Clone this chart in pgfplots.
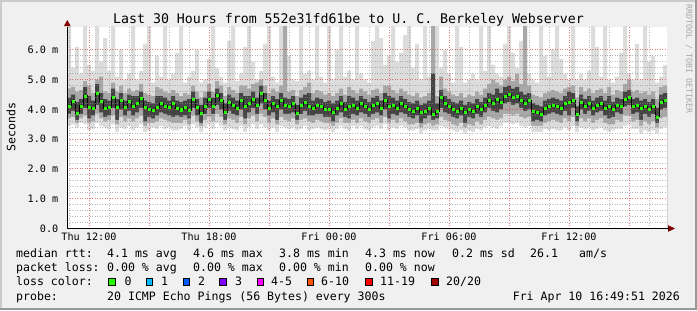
\documentclass[border=0pt]{standalone}
\usepackage{pgfplots}
\pgfplotsset{compat=1.18}
\usepackage{pgfplotstable}
\usepackage{fontspec}
\setmainfont{DejaVu Sans Mono}
\setmonofont{DejaVu Sans Mono}
\definecolor{bgc}{HTML}{F0F0F0}
\definecolor{shadeA}{HTML}{CBCBCB}
\definecolor{shadeB}{HTML}{999999}
\definecolor{mgrid}{HTML}{D04040}
\definecolor{ngrid}{HTML}{8C8C8C}
\definecolor{arrowc}{HTML}{800000}
\definecolor{smokeA}{HTML}{DCDCDC}
\definecolor{smokeB}{HTML}{A8A8A8}
\definecolor{smokeC}{HTML}{444444}
\definecolor{lc0}{HTML}{26FF00}
\definecolor{lc1}{HTML}{00B8FF}
\definecolor{lc2}{HTML}{0059FF}
\definecolor{lc3}{HTML}{7E00FF}
\definecolor{lc4}{HTML}{FF00FF}
\definecolor{lc6}{HTML}{FF5500}
\definecolor{lc11}{HTML}{FF0000}
\definecolor{lc20}{HTML}{A00000}
\newcommand{\legfont}{\fontsize{11.6}{14}\selectfont}
\newcommand{\axfont}{\fontsize{10.2}{12}\selectfont}

\pgfplotstableread{
i med l1 h1 l2 h2 l3 h3
0 4.12 3.45 6.9 3.70 4.70 3.85 4.40
1 4.27 3.50 5.40 3.75 4.75 3.95 4.50
2 3.86 3.40 6.10 3.55 4.60 3.65 4.25
3 4.12 3.55 5.20 3.70 4.65 3.85 4.35
4 4.46 3.50 6.9 3.80 4.95 4.05 4.75
5 4.08 3.30 5.50 3.55 4.80 3.70 4.45
6 4.05 3.35 5.30 3.60 4.55 3.80 4.30
7 4.55 3.55 6.9 3.85 5.00 4.15 4.85
8 4.27 3.45 5.60 3.70 5.10 3.90 4.55
9 4.05 3.40 6.40 3.60 4.60 3.75 4.35
10 4.08 3.35 5.30 3.65 4.55 3.80 4.30
11 4.41 3.50 6.9 3.80 4.90 4.05 4.70
12 4.08 3.25 5.10 3.50 4.60 3.65 4.35
13 4.32 3.40 6.00 3.75 4.80 4.00 4.55
14 4.08 3.35 5.00 3.60 4.55 3.80 4.30
15 4.27 3.45 5.20 3.70 4.70 3.95 4.50
16 4.10 3.30 6.9 3.60 4.60 3.80 4.45
17 4.21 3.40 5.00 3.70 4.65 3.90 4.45
18 4.38 3.50 5.30 3.80 4.85 4.05 4.60
19 4.08 3.25 6.20 3.45 4.55 3.60 4.30
20 4.01 3.30 6.9 3.55 4.50 3.75 4.25
21 3.97 3.40 4.90 3.55 4.45 3.70 4.20
22 4.08 3.35 5.80 3.60 4.75 3.80 4.45
23 4.21 3.45 5.10 3.70 4.70 3.90 4.45
24 4.12 3.35 6.9 3.65 4.60 3.85 4.40
25 4.08 3.40 5.00 3.60 4.55 3.80 4.30
26 4.21 3.30 5.20 3.55 4.65 3.75 4.45
27 4.05 3.30 5.90 3.55 4.55 3.80 4.30
28 3.99 3.35 6.9 3.55 4.45 3.75 4.25
29 4.08 3.45 4.90 3.65 4.55 3.80 4.30
30 3.97 3.30 5.10 3.50 4.50 3.70 4.35
31 4.35 3.50 5.30 3.80 4.80 4.05 4.60
32 4.08 3.40 6.00 3.60 4.60 3.80 4.35
33 3.86 3.25 4.90 3.45 4.40 3.55 4.15
34 4.12 3.40 5.00 3.65 4.60 3.85 4.40
35 4.35 3.50 5.70 3.75 4.85 4.05 4.60
36 4.12 3.35 6.9 3.60 4.60 3.85 4.40
37 4.49 3.55 5.40 3.85 4.95 4.15 4.70
38 4.30 3.45 5.10 3.75 4.80 4.00 4.55
39 3.90 3.30 4.90 3.50 4.45 3.65 4.20
40 4.25 3.40 6.30 3.70 4.75 3.95 4.50
41 4.15 3.35 6.9 3.65 4.65 3.85 4.40
42 4.05 3.30 4.95 3.55 4.55 3.80 4.30
43 4.30 3.45 5.20 3.75 4.80 4.00 4.55
44 4.10 3.25 6.10 3.50 4.80 3.70 4.45
45 4.20 3.40 6.9 3.70 4.70 3.90 4.45
46 4.35 3.50 5.60 3.80 4.85 4.05 4.60
47 4.15 3.35 5.00 3.60 4.90 3.85 4.40
48 4.55 3.50 5.30 3.85 5.00 4.20 4.80
49 4.30 3.40 6.20 3.75 4.80 4.00 4.55
50 4.05 3.30 6.9 3.55 4.55 3.80 4.30
51 4.20 3.40 5.10 3.70 4.70 3.90 4.45
52 4.10 3.25 4.90 3.50 4.60 3.65 4.35
53 4.30 3.45 6.9 3.75 4.80 4.00 4.55
54 4.15 3.40 6.9 3.65 6.9 3.85 4.40
55 4.10 3.35 5.80 3.60 4.60 3.85 4.35
56 4.20 3.40 5.00 3.70 4.65 3.90 4.45
57 3.88 3.30 4.95 3.50 4.45 3.65 4.15
58 4.15 3.35 6.9 3.65 4.65 3.85 4.40
59 4.25 3.45 5.20 3.70 4.75 3.95 4.50
60 4.10 3.30 5.30 3.60 4.90 3.80 4.55
61 4.05 3.35 5.00 3.55 4.55 3.80 4.30
62 4.15 3.40 6.9 3.65 4.65 3.85 4.40
63 4.10 3.35 5.10 3.60 4.60 3.85 4.35
64 4.00 3.30 4.90 3.55 4.50 3.75 4.25
65 4.02 3.35 6.9 3.55 4.55 3.75 4.30
66 3.90 3.25 5.00 3.45 4.45 3.60 4.20
67 4.05 3.35 6.00 3.55 4.55 3.80 4.30
68 4.20 3.45 6.9 3.70 4.70 3.90 4.45
69 4.00 3.35 5.10 3.55 4.50 3.75 4.25
70 4.10 3.30 5.30 3.55 4.75 3.70 4.45
71 4.15 3.45 5.00 3.65 4.65 3.85 4.40
72 4.05 3.35 6.9 3.55 4.55 3.80 4.30
73 4.20 3.45 5.20 3.70 4.70 3.90 4.45
74 4.10 3.35 5.00 3.60 4.60 3.85 4.35
75 4.00 3.30 4.90 3.55 4.50 3.75 4.25
76 4.15 3.40 6.30 3.65 4.65 3.85 4.40
77 4.20 3.45 6.9 3.70 4.70 3.90 4.45
78 4.05 3.35 6.40 3.55 4.55 3.80 4.30
79 4.30 3.50 5.50 3.75 4.80 4.00 4.55
80 4.10 3.30 5.80 3.55 4.80 3.70 4.45
81 4.15 3.40 6.9 3.65 4.65 3.85 4.40
82 4.05 3.35 5.60 3.55 4.55 3.80 4.30
83 4.20 3.45 5.90 3.70 4.70 3.90 4.45
84 4.10 3.40 6.50 3.60 4.60 3.85 4.35
85 4.00 3.30 6.9 3.50 4.50 3.75 4.25
86 3.95 3.30 5.40 3.50 4.45 3.70 4.20
87 4.05 3.35 6.20 3.55 4.55 3.80 4.30
88 3.90 3.20 5.00 3.40 4.40 3.55 4.15
89 3.95 3.30 6.9 3.50 4.45 3.70 4.20
90 4.05 3.35 5.10 3.55 4.55 3.80 4.30
91 3.85 3.30 6.9 3.45 6.9 3.65 5.20
92 3.95 3.30 6.9 3.50 4.45 3.70 4.20
93 4.40 3.45 5.40 3.75 5.10 4.05 4.65
94 4.20 3.40 6.00 3.65 4.70 3.90 4.45
95 4.10 3.35 5.20 3.60 4.60 3.85 4.35
96 4.00 3.30 4.90 3.50 4.50 3.75 4.25
97 3.95 3.25 6.9 3.45 4.45 3.70 4.20
98 4.05 3.30 6.10 3.55 4.55 3.80 4.30
99 3.90 3.20 4.90 3.40 4.40 3.55 4.15
100 4.00 3.30 5.00 3.50 4.50 3.75 4.25
101 3.95 3.25 5.20 3.45 4.45 3.70 4.20
102 4.10 3.35 5.00 3.60 4.60 3.85 4.35
103 4.00 3.30 6.9 3.50 4.50 3.75 4.25
104 4.15 3.40 5.30 3.65 4.70 3.90 4.40
105 4.30 3.45 6.9 3.75 4.85 4.05 4.55
106 4.20 3.40 5.50 3.70 5.00 3.95 4.50
107 4.35 3.35 5.20 3.65 4.90 3.90 4.70
108 4.25 3.45 5.10 3.70 4.80 4.00 4.55
109 4.45 3.55 6.20 3.85 5.00 4.20 4.75
110 4.50 3.55 6.9 3.85 5.10 4.25 4.80
111 4.40 3.50 5.90 3.80 4.95 4.15 4.70
112 4.45 3.55 5.40 3.85 5.20 4.20 4.75
113 4.30 3.45 6.30 3.75 4.85 4.05 4.60
114 4.20 3.40 6.9 3.70 6.9 3.95 4.50
115 4.30 3.45 5.20 3.75 4.80 4.00 4.55
116 3.95 3.25 5.00 3.45 4.50 3.60 4.20
117 3.90 3.25 4.90 3.45 4.45 3.65 4.15
118 3.85 3.25 6.9 3.45 4.40 3.60 4.10
119 4.05 3.35 5.80 3.55 4.55 3.80 4.30
120 4.10 3.30 5.10 3.60 4.60 3.85 4.35
121 4.15 3.35 6.00 3.65 4.65 3.90 4.40
122 4.10 3.30 6.9 3.60 4.60 3.85 4.35
123 4.05 3.30 5.70 3.55 4.55 3.80 4.30
124 4.20 3.40 5.20 3.70 4.70 3.95 4.45
125 4.25 3.30 5.00 3.60 4.75 3.80 4.60
126 4.30 3.45 6.9 3.75 4.80 4.05 4.55
127 3.85 3.25 5.00 3.45 4.40 3.60 4.10
128 4.25 3.40 5.20 3.70 4.75 4.00 4.50
129 4.10 3.35 5.00 3.60 4.60 3.85 4.35
130 4.20 3.40 5.30 3.70 4.70 3.95 4.45
131 4.05 3.30 6.9 3.55 4.55 3.80 4.30
132 4.15 3.35 6.10 3.65 4.65 3.90 4.40
133 4.20 3.40 5.10 3.70 4.70 3.95 4.45
134 4.05 3.30 6.9 3.55 4.55 3.80 4.30
135 4.10 3.25 5.00 3.50 4.75 3.70 4.45
136 4.00 3.30 4.90 3.50 4.50 3.75 4.25
137 4.15 3.35 5.10 3.65 4.65 3.90 4.40
138 4.10 3.35 5.90 3.60 4.60 3.85 4.35
139 4.35 3.45 6.9 3.80 4.85 4.10 4.60
140 4.40 3.50 5.20 3.80 5.00 4.15 4.65
141 4.10 3.35 5.00 3.60 4.60 3.85 4.35
142 4.15 3.35 6.20 3.65 4.65 3.90 4.40
143 4.05 3.20 5.00 3.45 4.55 3.65 4.30
144 4.10 3.30 6.9 3.60 4.60 3.85 4.35
145 4.00 3.25 5.60 3.50 4.50 3.75 4.25
146 4.10 3.30 5.80 3.60 4.60 3.85 4.35
147 3.75 3.20 4.90 3.40 4.35 3.55 4.05
148 4.25 3.35 5.10 3.70 4.75 4.00 4.50
149 4.30 3.40 5.50 3.75 4.80 4.05 4.55
150 4.30 3.40 5.50 3.75 4.80 4.05 4.55
}\smoke

\begin{document}
\begin{tikzpicture}[x=1bp,y=1bp]
\useasboundingbox (0,0) rectangle (697,310);
\fill[bgc] (0,0) rectangle (697,310);
\fill[shadeA] (0,308) rectangle (697,310);
\fill[shadeA] (0,0) rectangle (2,310);
\fill[shadeB] (695,0) rectangle (697,310);
\fill[shadeB] (0,0) rectangle (697,2);
\fill[white] (67,81.5) rectangle (667,283);
\begin{axis}[
  at={(67bp,81.5bp)}, anchor=south west,
  scale only axis, width=600bp, height=201.5bp,
  xmin=0, xmax=150, ymin=0, ymax=6.77,
  axis on top,
  axis x line*=bottom, axis y line*=left,
  axis line style={black, line width=1bp, -},
  major tick length=0pt, minor tick length=0pt,
  xtick={5.5,20.5,35.5,50.5,65.5,80.5,95.5,110.5,125.5,140.5},
  xticklabels={Thu 12:00,,Thu 18:00,,Fri 00:00,,Fri 06:00,,Fri 12:00,},
  minor xtick={0.5,10.5,15.5,25.5,30.5,40.5,45.5,55.5,60.5,70.5,75.5,85.5,90.5,100.5,105.5,115.5,120.5,130.5,135.5,145.5},
  ytick={0,1,2,3,4,5,6},
  yticklabels={0.0,1.0 m,2.0 m,3.0 m,4.0 m,5.0 m,6.0 m},
  minor y tick num=4,
  grid=both,
  major grid style={draw=mgrid, draw opacity=0.7, line width=1bp, dash pattern=on 1bp off 1.5bp},
  minor grid style={draw=ngrid, draw opacity=0.6, line width=1bp, dash pattern=on 1bp off 1.5bp},
  xticklabel style={font=\axfont, anchor=base, inner sep=0pt, yshift=-12.2bp},
  yticklabel style={font=\axfont, anchor=east, inner sep=0pt, xshift=-8.5bp},
  clip=true,
]
\addplot[const plot, fill=smokeA, draw=none] table[x=i,y=h1]{\smoke} \closedcycle;
\addplot[const plot, fill=smokeB, draw=none] table[x=i,y=h2]{\smoke} \closedcycle;
\addplot[const plot, fill=smokeC, draw=none] table[x=i,y=h3]{\smoke} \closedcycle;
\addplot[const plot, fill=smokeB, draw=none] table[x=i,y=l3]{\smoke} \closedcycle;
\addplot[const plot, fill=smokeA, draw=none] table[x=i,y=l2]{\smoke} \closedcycle;
\addplot[const plot, fill=white, draw=none] table[x=i,y=l1]{\smoke} \closedcycle;
\addplot[const plot, black, line width=0.8bp] table[x=i,y=med]{\smoke};
\addplot[lc0, only marks, mark=square*, mark size=1.05bp,
  mark options={draw=none, fill=lc0, xshift=2bp},
  skip coords between index={150}{151}] table[x=i,y=med]{\smoke};
\end{axis}
% axis arrows
\fill[arrowc] (64,284) -- (67.3,290) -- (70.6,284) -- cycle;
\fill[arrowc] (668,78.2) -- (675,81.5) -- (668,84.8) -- cycle;
\draw[black, line width=1bp] (667,81.5) -- (668.5,81.5);
% title
\node[anchor=base, inner sep=0pt, font=\fontsize{13.3}{15}\selectfont] at (348.5,286.7) {Last 30 Hours from 552e31fd61be to U. C. Berkeley Webserver};
% y label
\node[rotate=90, inner sep=0pt, font=\legfont] at (11,183) {Seconds};
% watermark
\node[rotate=-90, anchor=west, inner sep=0pt, text=black!35, font=\fontsize{8.3}{10}\selectfont] at (689,306) {RRDTOOL / TOBI OETIKER};
% legend
\begin{scope}[every node/.style={anchor=base west, inner sep=0pt, font=\legfont}]
\node at (16,52.7) {median rtt:};
\node at (107,52.7) {4.1 ms avg};
\node at (193,52.7) {4.6 ms max};
\node at (279,52.7) {3.8 ms min};
\node at (365,52.7) {4.3 ms now};
\node at (452,52.7) {0.2 ms sd};
\node at (530,52.7) {26.1};
\node at (579,52.7) {am/s};
\node at (16,38.3) {packet loss:};
\node at (107,38.3) {0.00 \% avg};
\node at (193,38.3) {0.00 \% max};
\node at (279,38.3) {0.00 \% min};
\node at (365,38.3) {0.00 \% now};
\node at (16,24.3) {loss color:};
\node at (124.5,24.3) {0};
\node at (161,24.3) {1};
\node at (198,24.3) {2};
\node at (235,24.3) {3};
\node at (271,24.3) {4-5};
\node at (321,24.3) {6-10};
\node at (380,24.3) {11-19};
\node at (446,24.3) {20/20};
\node at (16,10) {probe:};
\node at (107,10) {20 ICMP Echo Pings (56 Bytes) every 300s};
\node[anchor=base east] at (680,10) {Fri Apr 10 16:49:51 2026};
\end{scope}
\foreach \bx/\c in {108.5/lc0,146/lc1,183/lc2,219.5/lc3,257/lc4,307/lc6,365.3/lc11,431.3/lc20}{
  \filldraw[fill=\c, draw=black, line width=0.8bp] (\bx,24.2) rectangle ++(6.8,7.3);
}
\end{tikzpicture}
\end{document}
